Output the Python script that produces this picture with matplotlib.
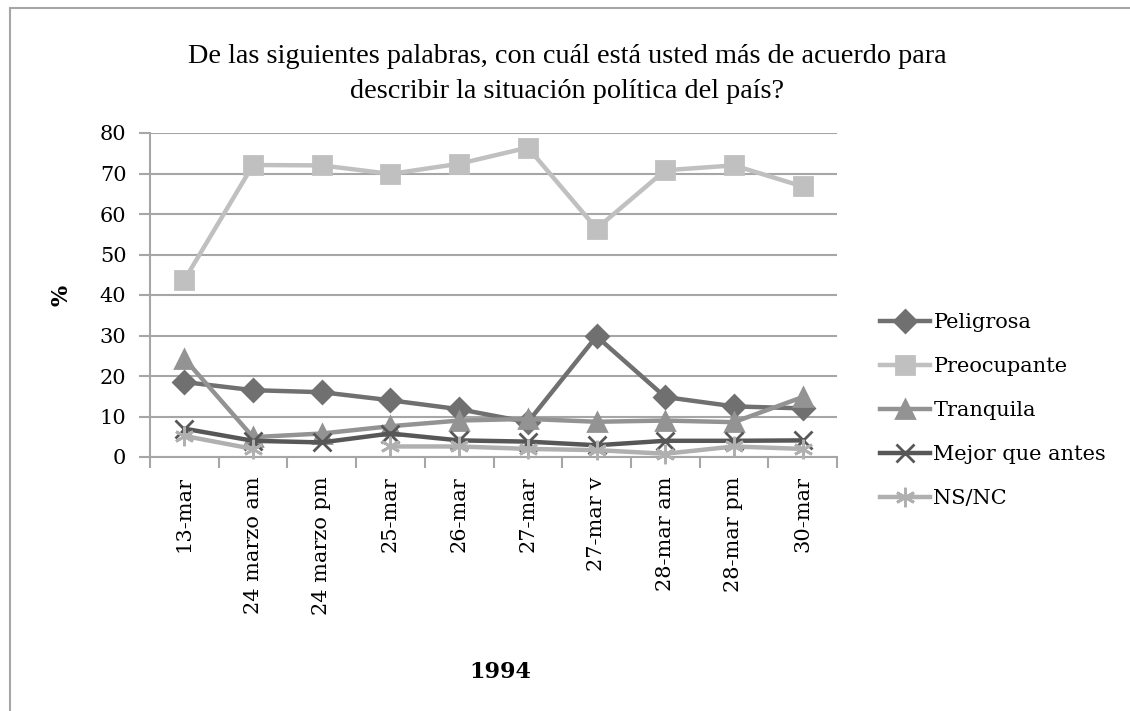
import numpy as np
import matplotlib
matplotlib.use("Agg")
from matplotlib import pyplot as plt
from matplotlib.patches import Rectangle

categories = ['13-mar', '24 marzo am', '24 marzo pm', '25-mar', '26-mar',
              '27-mar', '27-mar v', '28-mar am', '28-mar pm', '30-mar']

peligrosa = [18.5, 16.5, 16.0, 14.0, 11.8, 8.6, 29.8, 14.8, 12.5, 12.0]
preocupante = [43.7, 72.1, 72.0, 69.9, 72.4, 76.4, 56.4, 70.8, 72.0, 66.8]
tranquila = [24.3, 4.9, 5.8, 7.6, 9.0, 9.4, 8.7, 9.0, 8.6, 14.8]
mejor = [7.0, 4.0, 3.6, 5.8, 4.1, 3.8, 2.9, 4.0, 4.0, 4.1]
nsnc = [5.2, 2.0, np.nan, 2.6, 2.6, 2.0, 1.7, 0.8, 2.6, 2.0]

series = [
    ('Peligrosa', peligrosa, '#707070', 'D', 11),
    ('Preocupante', preocupante, '#c0c0c0', 's', 13),
    ('Tranquila', tranquila, '#939393', '^', 13),
    ('Mejor que antes', mejor, '#575757', 'x', 13),
    ('NS/NC', nsnc, '#b0b0b0', (6, 2, 0), 14),
]

serif = 'DejaVu Serif'
fig = plt.figure(figsize=(11.3, 7.11), dpi=100)
ax = fig.add_axes([150 / 1130, 1 - 457 / 711, (837 - 150) / 1130, (457 - 133) / 711])

x = np.arange(len(categories))
handles = []
for name, vals, col, mk, ms in series:
    h, = ax.plot(x, vals, color=col, lw=3.2, marker=mk, markersize=ms,
                 markeredgecolor=col, markeredgewidth=2, label=name,
                 clip_on=False, zorder=3)
    handles.append(h)

ax.set_xlim(-0.5, len(categories) - 0.5)
ax.set_ylim(0, 80)
ax.set_yticks(range(0, 81, 10))
ax.yaxis.grid(True, color='#a6a6a6', lw=1.5)
ax.set_axisbelow(True)
for s in ['top', 'right']:
    ax.spines[s].set_visible(False)
for s in ['left', 'bottom']:
    ax.spines[s].set_color('#a6a6a6')
    ax.spines[s].set_linewidth(1.5)

ax.set_xticks(x)
ax.set_xticklabels(categories, rotation=90, fontsize=15, family=serif, va='top')
ax.set_xticks(np.arange(-0.5, len(categories)), minor=True)
ax.tick_params(axis='x', which='major', length=0, pad=14)
ax.tick_params(axis='x', which='minor', length=8, width=1.5, color='#a6a6a6')
ax.tick_params(axis='y', length=8, width=1.5, color='#a6a6a6', pad=9)
for lab in ax.get_yticklabels():
    lab.set_fontsize(15)
    lab.set_family(serif)

fig.text(62 / 1130, 1 - 295 / 711, '%', rotation=90, fontsize=16, family=serif,
         fontweight='bold', ha='center', va='center')
fig.text(500 / 1130, 1 - 672 / 711, '1994', fontsize=16, family=serif,
         fontweight='bold', ha='center', va='center')

fig.text(567 / 1130, 1 - 74 / 711,
         'De las siguientes palabras, con cuál está usted más de acuerdo para\n'
         'describir la situación política del país?',
         fontsize=20.3, family='Liberation Serif', ha='center', va='center',
         linespacing=1.55)

fig.legend(handles=handles, loc='upper left', bbox_to_anchor=(872 / 1130, 1 - 305 / 711),
           frameon=False, prop={'family': serif, 'size': 15}, handlelength=2.4,
           handletextpad=0.15, labelspacing=1.2, borderaxespad=0)

fig.patches.append(Rectangle((10 / 1130, -1), 2, 2 - 8 / 711,
                             transform=fig.transFigure, fill=False,
                             edgecolor='#a6a6a6', lw=1.5))

fig.savefig('out.png', dpi=100)
